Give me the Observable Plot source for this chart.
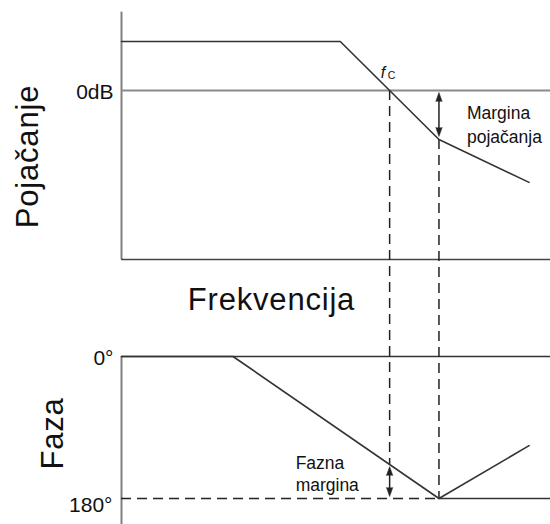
<!DOCTYPE html>
<html><head><meta charset="utf-8">
<script src="https://cdn.jsdelivr.net/npm/d3@7"></script>
<script src="https://cdn.jsdelivr.net/npm/@observablehq/plot@0.6"></script>
<style>
html,body{margin:0;padding:0;background:#fff;}
#chart svg{display:block}
g[font-size="31"] text{letter-spacing:0.8px}
</style></head><body><div id="chart"></div>
<script>
// Frequency in arbitrary linear units (0 = axis origin, 100 = right edge)
const gainFreq  = [0, 51, 62.5, 74, 95];
const gainDb    = [20, 20, 0, -20, -37.5];
const phaseFreq = [0, 26, 74, 95];
const phaseLag  = [0, 0, 180, 113];      // phase lag in degrees
const crossFreq = 62.5;                   // f_C, gain crosses 0 dB
const phase180Freq = 74;                  // phase reaches 180°
const phaseAtCross = 137;                 // phase lag at f_C
const gainAt180 = -20;                    // gain where phase = 180°
const gainTicks  = [{value: 0, label: "0dB"}];
const phaseTicks = [{value: 0, label: "0°"}, {value: 180, label: "180°"}];
const gainAxisRange  = [32, -69];
const phaseAxisRange = [0, 213];
const gainTitle = "Pojačanje", phaseTitle = "Faza", freqTitle = "Frekvencija";
const gainMarginLines  = ["Margina", "pojačanja"];
const phaseMarginLines = ["Fazna", "margina"];

// both panels share one vertical scale (in dB); phase panel is placed below
const PHASE_ORIGIN = -108.57, DB_PER_DEG = 0.322;
const ph = lag => PHASE_ORIGIN - lag * DB_PER_DEG;

const gainData = gainFreq.map((f, i) => ({f, v: gainDb[i]}));
const phaseData = phaseFreq.map((f, i) => ({f, v: ph(phaseLag[i])}));

const INK = "#222", AX = "#808080", TXT = "#111";
const dash = "10,6";

const head = (x, y, rot, dy) => Plot.vector([{x, y}], {
  x: "x", y: "y", rotate: rot, length: 9, anchor: "end", shape: "spike", r: 3.2,
  fill: INK, stroke: INK, strokeWidth: 0.5, dy
});

const chart = Plot.plot({
  width: 550, height: 524,
  marginLeft: 121, marginRight: 0, marginTop: 0, marginBottom: 0,
  x: {domain: [0, 100], axis: null},
  y: {domain: [-177.14, 36.73], axis: null},
  style: {fontFamily: "'Liberation Sans', Arial, sans-serif", background: "#fff"},
  marks: [
    // gain panel frame
    Plot.ruleX([0], {y1: gainAxisRange[0], y2: gainAxisRange[1], stroke: AX, strokeWidth: 2}),
    Plot.ruleY([gainAxisRange[1]], {stroke: "#444", strokeWidth: 1.6}),
    Plot.ruleY(gainTicks, {y: "value", stroke: "#8a8a8a", strokeWidth: 2}),
    // phase panel frame
    Plot.ruleX([0], {y1: ph(phaseAxisRange[0]), y2: ph(phaseAxisRange[1]), stroke: AX, strokeWidth: 2}),
    Plot.ruleY([phaseTicks[0]], {y: d => ph(d.value), stroke: "#333", strokeWidth: 1.6}),
    Plot.ruleY([phaseTicks[1]], {y: d => ph(d.value), x1: 0, x2: phase180Freq, stroke: INK, strokeWidth: 1.5, strokeDasharray: dash}),
    Plot.ruleY([phaseTicks[1]], {y: d => ph(d.value), x1: phase180Freq, x2: 100, stroke: "#333", strokeWidth: 1.6}),
    // dashed verticals
    Plot.ruleX([crossFreq], {y1: 0, y2: ph(phaseAtCross), stroke: INK, strokeWidth: 1.5, strokeDasharray: dash}),
    Plot.ruleX([phase180Freq], {y1: gainAt180, y2: ph(180), stroke: INK, strokeWidth: 1.5, strokeDasharray: dash}),
    // curves
    Plot.line(gainData, {x: "f", y: "v", stroke: "#333", strokeWidth: 1.6}),
    Plot.line(phaseData, {x: "f", y: "v", stroke: "#333", strokeWidth: 1.6}),
    // gain margin arrow
    Plot.ruleX([phase180Freq], {y1: 0, y2: gainAt180, stroke: INK, strokeWidth: 1.5, insetTop: 6, insetBottom: 6}),
    head(phase180Freq, 0, 0, 2),
    head(phase180Freq, gainAt180, 180, -3),
    // phase margin arrow
    Plot.ruleX([crossFreq], {y1: ph(phaseAtCross), y2: ph(180), stroke: INK, strokeWidth: 1.5, insetTop: 6, insetBottom: 6}),
    head(crossFreq, ph(phaseAtCross), 0, 2),
    head(crossFreq, ph(180), 180, -2),
    // tick labels
    Plot.text(gainTicks, {x: () => 0, y: "value", text: "label", textAnchor: "end", lineAnchor: "bottom", dx: -8, dy: 9, fontSize: 21, fill: TXT}),
    Plot.text([phaseTicks[0]], {x: () => 0, y: d => ph(d.value), text: "label", textAnchor: "end", lineAnchor: "bottom", dx: -8, dy: 9, fontSize: 21, fill: TXT}),
    Plot.text([phaseTicks[1]], {x: () => 0, y: d => ph(d.value), text: "label", textAnchor: "end", lineAnchor: "bottom", dx: -9, dy: 13, fontSize: 21, fill: TXT}),
    // titles
    Plot.text([gainTitle], {frameAnchor: "top-left", text: d => d, rotate: -90, textAnchor: "middle", lineAnchor: "bottom", dx: -84, dy: 156, fontSize: 31, fill: TXT}),
    Plot.text([phaseTitle], {frameAnchor: "top-left", text: d => d, rotate: -90, textAnchor: "middle", lineAnchor: "bottom", dx: -59, dy: 433, fontSize: 31, fill: TXT}),
    Plot.text([freqTitle], {frameAnchor: "top-left", text: d => d, textAnchor: "middle", lineAnchor: "bottom", dx: 150, dy: 309, fontSize: 31, fill: TXT}),
    // f_C label
    Plot.text(["f"], {x: () => crossFreq, y: () => 0, text: d => d, textAnchor: "start", lineAnchor: "bottom", dx: -9, dy: -12, fontSize: 16, fontStyle: "italic", fill: TXT}),
    Plot.text(["C"], {x: () => crossFreq, y: () => 0, text: d => d, textAnchor: "start", lineAnchor: "bottom", dx: -2, dy: -11, fontSize: 10.5, fill: TXT}),
    // margin labels
    Plot.text([gainMarginLines[0]], {x: () => phase180Freq, y: () => 0, text: d => d, textAnchor: "start", lineAnchor: "bottom", dx: 28, dy: 29, fontSize: 17.5, fill: TXT}),
    Plot.text([gainMarginLines[1]], {x: () => phase180Freq, y: () => 0, text: d => d, textAnchor: "start", lineAnchor: "bottom", dx: 28, dy: 53, fontSize: 17.5, fill: TXT}),
    Plot.text([phaseMarginLines[0]], {x: () => crossFreq, y: () => ph(180), text: d => d, textAnchor: "start", lineAnchor: "bottom", dx: -94, dy: -30, fontSize: 17.5, fill: TXT}),
    Plot.text([phaseMarginLines[1]], {x: () => crossFreq, y: () => ph(180), text: d => d, textAnchor: "start", lineAnchor: "bottom", dx: -94, dy: -8, fontSize: 17.5, fill: TXT})
  ]
});
document.getElementById("chart").appendChild(chart);
</script></body></html>
